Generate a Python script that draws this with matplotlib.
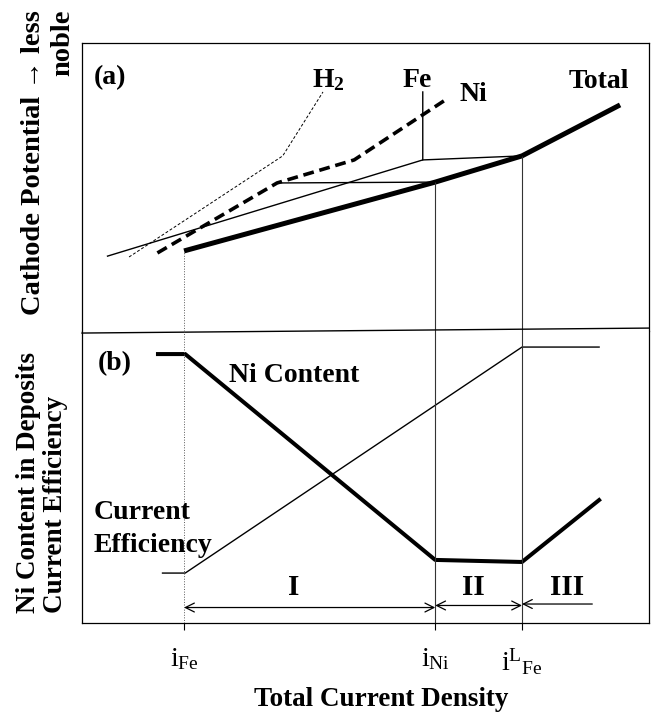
import matplotlib
matplotlib.use("Agg")
import matplotlib.pyplot as plt

plt.rcParams['font.family'] = ['Liberation Serif', 'DejaVu Serif']
plt.rcParams['font.weight'] = 'bold'
plt.rcParams['mathtext.fontset'] = 'custom'
plt.rcParams['mathtext.rm'] = 'Liberation Serif:weight=normal'
plt.rcParams['mathtext.bf'] = 'Liberation Serif:weight=bold'
plt.rcParams['mathtext.it'] = 'Liberation Serif:style=italic'

# characteristic current densities (arbitrary units)
i_fe = 18.0
i_ni = 62.3
i_lfe = 77.6
tick_pos = [i_fe, i_ni, i_lfe]
tick_labels = [r'$\mathrm{i}_{\mathrm{Fe}}$', r'$\mathrm{i}_{\mathrm{Ni}}$',
               r'$\mathrm{i}^{\mathrm{L}}{}_{\mathrm{Fe}}$']

# (a) polarisation curves
total_x = [18.0, 62.3, 77.6, 94.9]
total_y = [27.8, 51.7, 60.8, 78.5]
fe_x = [4.5, 60.1, 60.1]
fe_y = [26.0, 59.4, 83.0]
fe_link_x = [60.1, 77.6]
fe_link_y = [59.4, 60.8]
ni_x = [13.3, 34.4, 48.0, 64.6]
ni_y = [27.1, 51.4, 59.4, 80.9]
ni_link_x = [34.4, 62.3]
ni_link_y = [51.4, 51.7]
h2_x = [8.3, 35.4, 42.5]
h2_y = [25.7, 60.8, 83.0]

# (b) composition / efficiency
nic_x = [13.4, 18.2, 62.3, 77.6, 91.2]
nic_y = [92.1, 92.1, 21.6, 20.9, 42.1]
ce_x = [14.2, 18.2, 77.6, 91.2]
ce_y = [17.1, 17.1, 94.5, 94.5]

regions = ['I', 'II', 'III']
region_start = [i_fe, i_ni, i_lfe]
region_end = [i_ni, i_lfe, 90.0]
region_arrow_y = [5.3, 6.0, 6.5]
region_label_x = [37.4, 69.0, 85.5]

W, H = 652, 715
fig = plt.figure(figsize=(6.52, 7.15), dpi=100)
L, R = 82 / W, 649 / W
ax1 = fig.add_axes([L, 1 - 331 / H, R - L, 288 / H])
ax2 = fig.add_axes([L, 1 - 623 / H, R - L, 292 / H])

for ax in (ax1, ax2):
    ax.set_xlim(0, 100)
    ax.set_ylim(0, 100)
    ax.set_yticks([])
    for s in ax.spines.values():
        s.set_linewidth(0.9)
ax1.spines['bottom'].set_visible(False)
ax2.spines['top'].set_visible(False)
ax1.set_xticks([])
# slightly slanted separator between the panels
ax2.plot([0, 1], [0.993, 1.010], color='black', lw=1.0, transform=ax2.transAxes, clip_on=False)

# panel (a)
ax1.plot(total_x, total_y, color='black', lw=3.6, solid_capstyle='butt')
ax1.plot(fe_x, fe_y, color='black', lw=1.0)
ax1.plot(fe_link_x, fe_link_y, color='black', lw=1.0)
ax1.plot(ni_x, ni_y, color='black', lw=2.6, dashes=(3.0, 1.6))
ax1.plot(ni_link_x, ni_link_y, color='black', lw=1.0)
ax1.plot(h2_x, h2_y, color='black', lw=0.7, dashes=(3, 2))
ax1.vlines(i_fe, 0, total_y[0], color='0.35', lw=0.7, linestyles=':')
ax1.vlines([i_ni, i_lfe], 0, [total_y[1], total_y[2]], color='0.2', lw=0.8)

ax1.text(4.9, 88, '(a)', fontsize=20, ha='center', va='center')
ax1.text(43.5, 87, r'$\mathbf{H}_{\mathbf{2}}$', fontsize=20, ha='center', va='center')
ax1.text(59.1, 87, 'Fe', fontsize=20, ha='center', va='center')
ax1.text(69.0, 82, 'Ni', fontsize=20, ha='center', va='center')
ax1.text(91.2, 86.5, 'Total', fontsize=20, ha='center', va='center')

# panel (b)
ax2.plot(nic_x, nic_y, color='black', lw=2.9)
ax2.plot(ce_x, ce_y, color='black', lw=1.0)
ax2.axvline(i_fe, color='0.35', lw=0.7, ls=':')
ax2.axvline(i_ni, color='0.2', lw=0.8)
ax2.axvline(i_lfe, color='0.2', lw=0.8)

for name, a, b, yy, lx in zip(regions, region_start, region_end, region_arrow_y, region_label_x):
    style = '->' if name == 'III' else '<->'
    ax2.annotate('', xy=(a, yy), xytext=(b, yy),
                 arrowprops=dict(arrowstyle=style, color='black', lw=0.9,
                                 mutation_scale=16, shrinkA=0, shrinkB=0))
    ax2.text(lx, 12.2, name, fontsize=21, ha='center', va='center')

ax2.text(5.8, 89, '(b)', fontsize=20, ha='center', va='center')
ax2.text(37.4, 84.9, 'Ni Content', fontsize=20, ha='center', va='center')
ax2.text(2.0, 38, 'Current', fontsize=20, ha='left', va='center')
ax2.text(2.0, 26.7, 'Efficiency', fontsize=20, ha='left', va='center')

ax2.set_xticks(tick_pos)
ax2.set_xticklabels(tick_labels, fontsize=20)
ax2.tick_params(axis='x', direction='out', length=5, width=0.8, pad=12)
ax2.set_xlabel('Total Current Density', fontsize=19.5, fontweight='bold')
ax2.xaxis.set_label_coords((381 - 82) / 567, -(700 - 623) / 292, transform=ax2.transAxes)
ax2.xaxis.label.set_va('center')

fig.text(48 / W, 1 - 10 / H, 'Cathode Potential \u2192 less\nnoble', rotation=90,
         fontsize=20.5, ha='center', va='top', multialignment='right', linespacing=1.25)
fig.text(42 / W, 1 - 613 / H, 'Ni Content in Deposits\nCurrent Efficiency', rotation=90,
         fontsize=19.5, ha='center', va='bottom', multialignment='left', linespacing=1.1)

fig.savefig('out.png', dpi=100)
